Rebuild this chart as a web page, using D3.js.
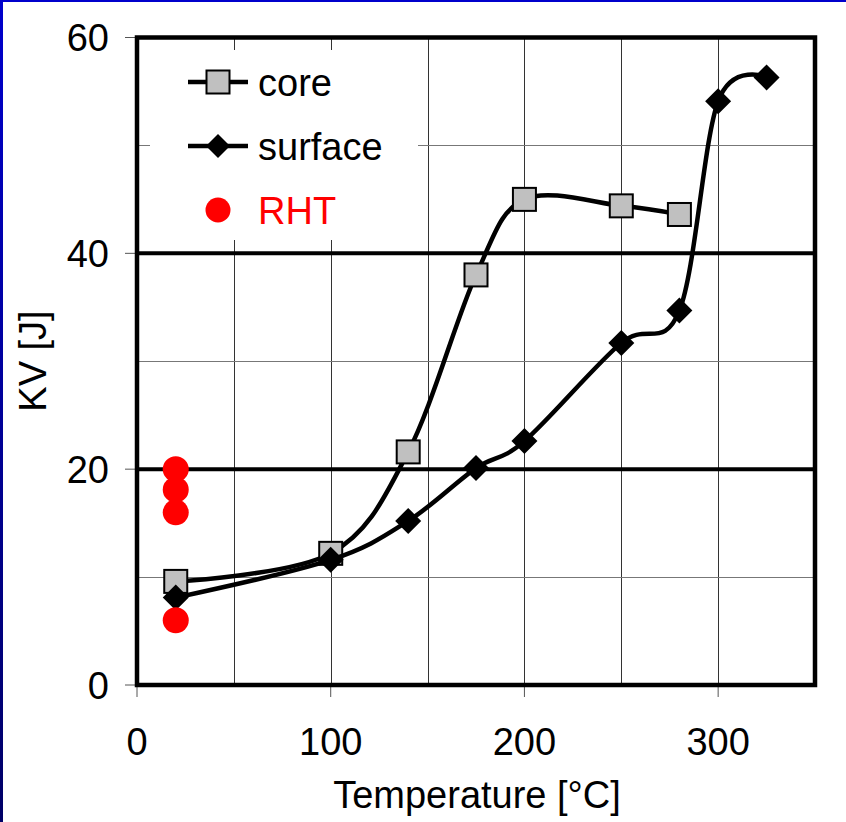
<!DOCTYPE html>
<html><head><meta charset="utf-8">
<script src="https://cdn.jsdelivr.net/npm/d3@7/dist/d3.min.js"></script>
<style>
html,body{margin:0;padding:0;background:#fff;}
svg{display:block;}
</style></head>
<body>
<script>
const coreT = [20, 100, 140, 175, 200, 250, 280];
const coreKV = [9.6, 12.2, 21.6, 38.0, 45.0, 44.4, 43.6];
const surfaceT = [20, 100, 140, 175, 200, 250, 280, 300, 325];
const surfaceKV = [8.1, 11.6, 15.2, 20.1, 22.6, 31.7, 34.7, 54.1, 56.3];
const rhtT = [20, 20, 20, 20];
const rhtKV = [20.0, 18.1, 16.0, 6.0];
const xTicks = [0, 100, 200, 300];
const yTicks = [0, 20, 40, 60];
const seriesNames = ["core", "surface", "RHT"];

const W = 846, H = 822;
const FONT = "'Liberation Sans', Arial, sans-serif";
const FS = 38;
const svg = d3.select("body").append("svg").attr("width", W).attr("height", H);

// blue frame
const defs = svg.append("defs");
const g1 = defs.append("linearGradient").attr("id","bl").attr("x1",0).attr("y1",0).attr("x2",0).attr("y2",1);
g1.append("stop").attr("offset","0%").attr("stop-color","#0000cc");
g1.append("stop").attr("offset","100%").attr("stop-color","#000066");
svg.append("rect").attr("x",0).attr("y",0).attr("width",3).attr("height",H).attr("fill","url(#bl)");
svg.append("rect").attr("x",0).attr("y",0).attr("width",W).attr("height",2).attr("fill","#0000cc");

const x = d3.scaleLinear().domain([0, 350]).range([137, 815]);
const y = d3.scaleLinear().domain([0, 60]).range([685, 37.5]);

// gridlines
const vGrid = d3.range(50, 350, 50);
svg.append("g").selectAll("line").data(vGrid).join("line")
  .attr("x1", d => Math.round(x(d)) + 0.5).attr("x2", d => Math.round(x(d)) + 0.5)
  .attr("y1", y(60)).attr("y2", y(0)).attr("stroke", "#333").attr("stroke-width", 1);
const hThin = [10, 30, 50];
svg.append("g").selectAll("line").data(hThin).join("line")
  .attr("x1", x(0)).attr("x2", x(350))
  .attr("y1", d => Math.round(y(d)) + 0.5).attr("y2", d => Math.round(y(d)) + 0.5)
  .attr("stroke", "#777").attr("stroke-width", 1);
const hThick = [20, 40];
svg.append("g").selectAll("line").data(hThick).join("line")
  .attr("x1", x(0)).attr("x2", x(350))
  .attr("y1", d => y(d)).attr("y2", d => y(d))
  .attr("stroke", "#000").attr("stroke-width", 4);

// legend background
svg.append("rect").attr("x", 150).attr("y", 50).attr("width", 268).attr("height", 190).attr("fill", "#fff");

// axes ticks (outside)
svg.append("g").selectAll("line").data(yTicks).join("line")
  .attr("x1", 125).attr("x2", x(0)).attr("y1", d => y(d)).attr("y2", d => y(d))
  .attr("stroke", "#555").attr("stroke-width", 1);
svg.append("g").selectAll("line").data(xTicks).join("line")
  .attr("x1", d => x(d)).attr("x2", d => x(d)).attr("y1", y(0)).attr("y2", 697)
  .attr("stroke", "#555").attr("stroke-width", 1);

// plot border
svg.append("rect").attr("x", x(0)).attr("y", y(60)).attr("width", x(350) - x(0)).attr("height", y(0) - y(60))
  .attr("fill", "none").attr("stroke", "#000").attr("stroke-width", 4.5);

// tick labels
svg.append("g").selectAll("text").data(yTicks).join("text")
  .attr("x", 109).attr("y", d => y(d) + 13.5).attr("text-anchor", "end")
  .attr("font-family", FONT).attr("font-size", FS).attr("fill", "#000").text(d => d);
svg.append("g").selectAll("text").data(xTicks).join("text")
  .attr("x", d => x(d)).attr("y", 755).attr("text-anchor", "middle")
  .attr("font-family", FONT).attr("font-size", FS).attr("fill", "#000").text(d => d);

// axis titles
svg.append("text").attr("x", 477).attr("y", 808).attr("text-anchor", "middle")
  .attr("font-family", FONT).attr("font-size", FS).attr("fill", "#000").text("Temperature [°C]");
svg.append("text").attr("transform", "translate(46,361) rotate(-90)").attr("text-anchor", "middle")
  .attr("font-family", FONT).attr("font-size", FS).attr("fill", "#000").text("KV [J]");

// series
const line = d3.line().x(d => x(d[0])).y(d => y(d[1])).curve(d3.curveCardinal.tension(0));
const coreData = coreT.map((t, i) => [t, coreKV[i]]);
const surfData = surfaceT.map((t, i) => [t, surfaceKV[i]]);
const rhtData = rhtT.map((t, i) => [t, rhtKV[i]]);

svg.append("path").datum(coreData).attr("d", line).attr("fill", "none").attr("stroke", "#000").attr("stroke-width", 4.5);
svg.append("g").selectAll("rect").data(coreData).join("rect")
  .attr("x", d => x(d[0]) - 11.5).attr("y", d => y(d[1]) - 11.5).attr("width", 23).attr("height", 23)
  .attr("fill", "#c0c0c0").attr("stroke", "#000").attr("stroke-width", 2);

svg.append("path").datum(surfData).attr("d", line).attr("fill", "none").attr("stroke", "#000").attr("stroke-width", 4.5);
const diamond = r => `M0,${-r}L${r},0L0,${r}L${-r},0Z`;
svg.append("g").selectAll("path").data(surfData).join("path")
  .attr("transform", d => `translate(${x(d[0])},${y(d[1])})`).attr("d", diamond(13)).attr("fill", "#000");

svg.append("g").selectAll("circle").data(rhtData).join("circle")
  .attr("cx", d => x(d[0])).attr("cy", d => y(d[1])).attr("r", 13).attr("fill", "#ff0000");

// legend
const lg = svg.append("g");
const ly = [82, 146, 210];
lg.append("line").attr("x1", 188).attr("x2", 248).attr("y1", ly[0]).attr("y2", ly[0]).attr("stroke", "#000").attr("stroke-width", 4.5);
lg.append("rect").attr("x", 218 - 11.5).attr("y", ly[0] - 11.5).attr("width", 23).attr("height", 23)
  .attr("fill", "#c0c0c0").attr("stroke", "#000").attr("stroke-width", 2);
lg.append("line").attr("x1", 188).attr("x2", 248).attr("y1", ly[1]).attr("y2", ly[1]).attr("stroke", "#000").attr("stroke-width", 4.5);
lg.append("path").attr("transform", `translate(218,${ly[1]})`).attr("d", diamond(12)).attr("fill", "#000");
lg.append("circle").attr("cx", 218).attr("cy", ly[2]).attr("r", 12.5).attr("fill", "#ff0000");
const lColors = ["#000", "#000", "#ff0000"];
lg.selectAll("text").data(seriesNames).join("text")
  .attr("x", 258).attr("y", (d, i) => ly[i] + 13.5).attr("font-family", FONT).attr("font-size", FS)
  .attr("fill", (d, i) => lColors[i]).text(d => d);
</script>
</body></html>
